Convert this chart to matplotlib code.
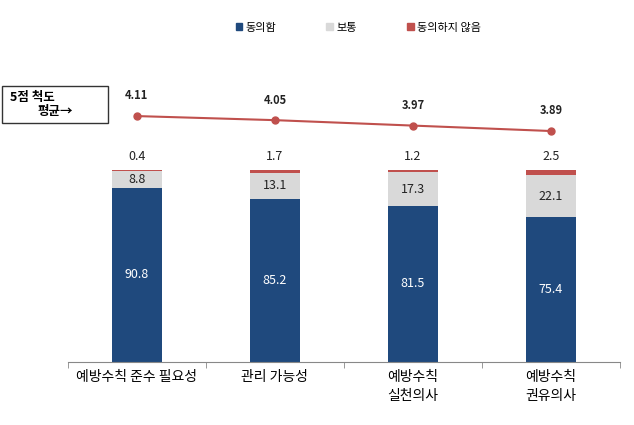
import matplotlib
matplotlib.use("Agg")
import matplotlib.pyplot as plt
from matplotlib.patches import Patch, Rectangle
import numpy as np

plt.rcParams['font.family'] = ['Noto Sans CJK KR', 'DejaVu Sans']

categories = ['예방수칙 준수 필요성', '관리 가능성', '예방수칙\n실천의사', '예방수칙\n권유의사']
agree = [90.8, 85.2, 81.5, 75.4]
neutral = [8.8, 13.1, 17.3, 22.1]
disagree = [0.4, 1.7, 1.2, 2.5]
mean5 = [4.11, 4.05, 3.97, 3.89]
series_names = ['동의함', '보통', '동의하지 않음']

c_blue = '#1f497d'
c_gray = '#d9d9d9'
c_red = '#c0504d'

W, H = 634, 425
fig = plt.figure(figsize=(6.34, 4.25), dpi=100)
ax = fig.add_axes([0.107, 0.148, 0.871, 0.734])
x = np.arange(len(categories))
w = 0.36

ax.bar(x, agree, w, color=c_blue)
ax.bar(x, neutral, w, bottom=agree, color=c_gray)
bot2 = [a + n for a, n in zip(agree, neutral)]
ax.bar(x, disagree, w, bottom=bot2, color=c_red)

for i in range(len(x)):
    ax.text(x[i], agree[i] / 2, f'{agree[i]}', ha='center', va='center', color='white', fontsize=9)
    ax.text(x[i], agree[i] + neutral[i] / 2, f'{neutral[i]}', ha='center', va='center', color='#222222', fontsize=9)
    ax.text(x[i], 100 + 3.5, f'{disagree[i]}', ha='center', va='bottom', color='#222222', fontsize=9)

ax.set_xlim(-0.5, len(x) - 0.5)
ax.set_ylim(0, 162.5)
ax.set_yticks([])
for s in ['top', 'right', 'left']:
    ax.spines[s].set_visible(False)
ax.spines['bottom'].set_color('#888888')
ax.set_xticks(x)
ax.set_xticklabels(categories, fontsize=10, va='top', linespacing=1.4)
ax.tick_params(axis='x', length=0, pad=6)
ax.set_xticks(np.arange(-0.5, len(x), 1), minor=True)
ax.tick_params(axis='x', which='minor', length=4, color='#888888', direction='out')

ax2 = ax.twinx()
ax2.plot(x, mean5, color=c_red, marker='o', markersize=5, linewidth=1.5)
ax2.set_ylim(0.49, 5.08)
ax2.axis('off')
for i in range(len(x)):
    ax2.text(x[i], mean5[i] + 0.2, f'{mean5[i]:.2f}', ha='center', va='bottom', fontsize=8, fontweight='bold', color='#222222')

handles = [Patch(color=c_blue), Patch(color=c_gray), Patch(color=c_red)]
fig.legend(handles, series_names, loc='center', bbox_to_anchor=(0.565, 0.935), ncol=3, frameon=False,
           fontsize=8, handlelength=0.6, handleheight=0.6, handletextpad=0.3, columnspacing=4.5)

# box with "5점 척도 평균→"
fig.add_artist(Rectangle((2 / W, 1 - 123 / H), 106 / W, 37 / H, transform=fig.transFigure,
                         facecolor='white', edgecolor='#333333', linewidth=1))
fig.text(10 / W, 1 - 97 / H, '5점 척도', ha='left', va='center', fontsize=9, fontweight='bold')
fig.text(38 / W, 1 - 111 / H, '평균→', ha='left', va='center', fontsize=9, fontweight='bold')

fig.savefig('out.png', dpi=100)
